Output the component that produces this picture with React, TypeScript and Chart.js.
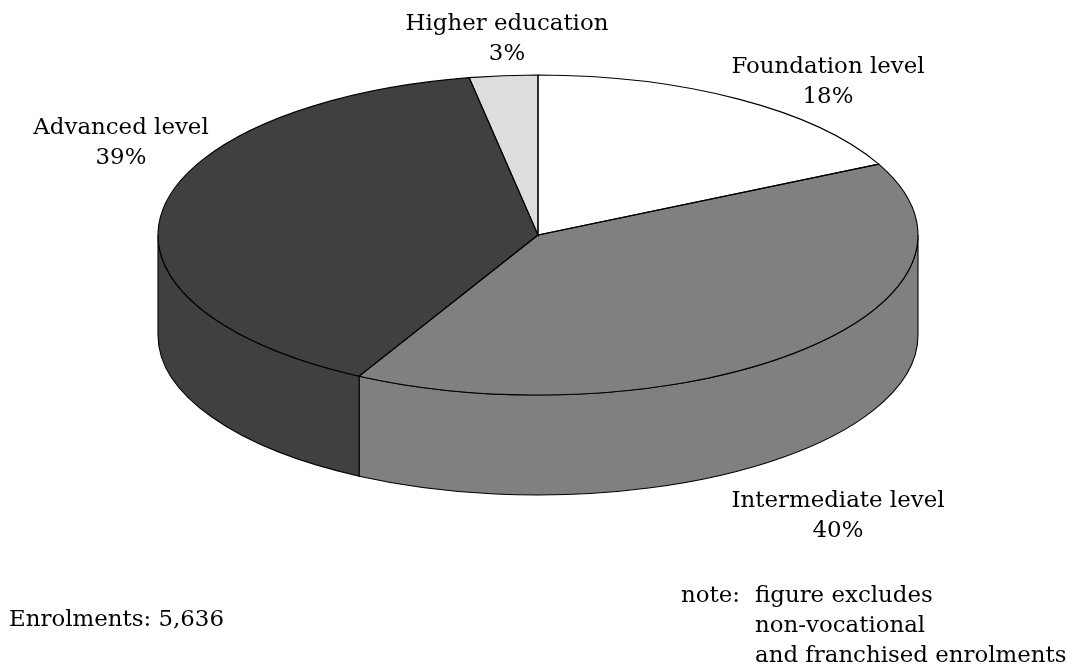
import React, { useEffect, useRef } from "react";
import { Chart, registerables } from "chart.js";

Chart.register(...registerables);

const categories = ["Foundation level", "Intermediate level", "Advanced level", "Higher education"];
const shares = [17.7, 40.1, 39.3, 2.9];
const sliceColors = ["#FFFFFF", "#808080", "#404040", "#DDDDDD"];
const percentLabels = ["18%", "40%", "39%", "3%"];
const labelCenters = [
  [828, 73],
  [838, 507],
  [121, 134],
  [507, 30],
];
const enrolmentText = "Enrolments: 5,636";
const noteLead = "note:";
const noteLines = ["figure excludes", "non-vocational", "and franchised enrolments"];

const CX = 538;
const CY = 235;
const RX = 380;
const RY = 160;
const DEPTH = 100;
const FONT = '22.9px "DejaVu Serif"';
const LINE_H = 30;

const pie3d = {
  id: "pie3d",
  beforeDatasetsDraw(chart: any) {
    const ctx = chart.ctx;
    const arcs = chart.getDatasetMeta(0).data;
    ctx.save();
    ctx.lineWidth = 1.1;
    ctx.strokeStyle = "#000";
    arcs.forEach((arc: any, i: number) => {
      const a = Math.max(arc.startAngle, 0);
      const b = Math.min(arc.endAngle, Math.PI);
      if (b <= a) return;
      ctx.beginPath();
      ctx.ellipse(CX, CY, RX, RY, 0, a, b);
      ctx.ellipse(CX, CY + DEPTH, RX, RY, 0, b, a, true);
      ctx.closePath();
      ctx.fillStyle = sliceColors[i];
      ctx.fill();
      ctx.stroke();
    });
    ctx.restore();
    const first = arcs[0];
    const s = RX / first.outerRadius;
    const t = RY / first.outerRadius;
    ctx.save();
    ctx.translate(CX, CY);
    ctx.scale(s, t);
    ctx.translate(-first.x, -first.y);
  },
  afterDatasetsDraw(chart: any) {
    const ctx = chart.ctx;
    ctx.restore();
    const arcs = chart.getDatasetMeta(0).data;
    ctx.save();
    ctx.lineWidth = 1.1;
    ctx.strokeStyle = "#000";
    arcs.forEach((arc: any) => {
      ctx.beginPath();
      ctx.moveTo(CX, CY);
      ctx.ellipse(CX, CY, RX, RY, 0, arc.startAngle, arc.endAngle);
      ctx.closePath();
      ctx.stroke();
    });
    ctx.fillStyle = "#000";
    ctx.font = FONT;
    ctx.textBaseline = "alphabetic";
    ctx.textAlign = "center";
    categories.forEach((name, i) => {
      const [x, y] = labelCenters[i];
      ctx.fillText(name, x, y);
      ctx.fillText(percentLabels[i], x, y + LINE_H);
    });
    ctx.textAlign = "left";
    ctx.fillText(enrolmentText, 9, 626);
    ctx.fillText(noteLead, 681, 602);
    noteLines.forEach((line, i) => ctx.fillText(line, 755, 602 + i * 30));
    ctx.restore();
  },
};

export default function App() {
  const ref = useRef<HTMLCanvasElement>(null);
  useEffect(() => {
    const chart = new Chart(ref.current!, {
      type: "pie",
      data: {
        labels: categories,
        datasets: [{ data: shares, backgroundColor: sliceColors, borderWidth: 0 }],
      },
      options: {
        animation: false,
        responsive: false,
        plugins: { legend: { display: false }, tooltip: { enabled: false } },
      },
      plugins: [pie3d],
    });
    return () => chart.destroy();
  }, []);
  return (
    <canvas
      ref={ref}
      width={1079}
      height={667}
      style={{ position: "absolute", left: 0, top: 0, display: "block" }}
    />
  );
}
